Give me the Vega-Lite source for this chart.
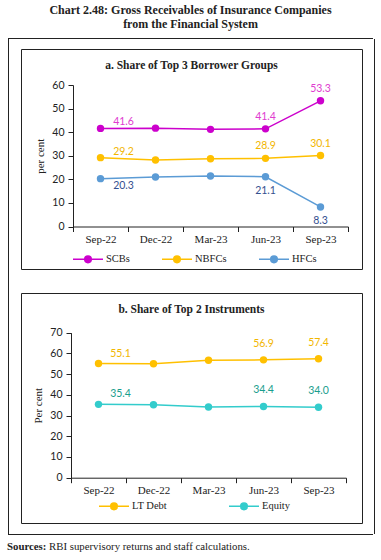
{
  "$schema": "https://vega.github.io/schema/vega-lite/v6.json",
  "background": "white",
  "padding": {"left": 7, "top": 4, "right": 4, "bottom": 4},
  "title": {
    "text": "RBI supervisory returns and staff calculations.",
    "orient": "bottom",
    "anchor": "start",
    "frame": "bounds",
    "dx": 42,
    "offset": -11,
    "font": "Liberation Serif",
    "fontSize": 10.8,
    "fontWeight": "normal",
    "color": "#222"
  },
  "spacing": 0,
  "resolve": {"scale": {"color": "independent", "fill": "independent"}, "legend": {"color": "independent"}},
  "datasets": {
    "a": [
      {"date": "Sep-22", "series": "SCBs", "value": 41.6},
      {"date": "Dec-22", "series": "SCBs", "value": 41.7},
      {"date": "Mar-23", "series": "SCBs", "value": 41.2},
      {"date": "Jun-23", "series": "SCBs", "value": 41.4},
      {"date": "Sep-23", "series": "SCBs", "value": 53.3},
      {"date": "Sep-22", "series": "NBFCs", "value": 29.2},
      {"date": "Dec-22", "series": "NBFCs", "value": 28.2},
      {"date": "Mar-23", "series": "NBFCs", "value": 28.7},
      {"date": "Jun-23", "series": "NBFCs", "value": 28.9},
      {"date": "Sep-23", "series": "NBFCs", "value": 30.1},
      {"date": "Sep-22", "series": "HFCs", "value": 20.3},
      {"date": "Dec-22", "series": "HFCs", "value": 21.0},
      {"date": "Mar-23", "series": "HFCs", "value": 21.4},
      {"date": "Jun-23", "series": "HFCs", "value": 21.1},
      {"date": "Sep-23", "series": "HFCs", "value": 8.3}
    ],
    "b": [
      {"date": "Sep-22", "series": "LT Debt", "value": 55.1},
      {"date": "Dec-22", "series": "LT Debt", "value": 55.0},
      {"date": "Mar-23", "series": "LT Debt", "value": 56.7},
      {"date": "Jun-23", "series": "LT Debt", "value": 56.9},
      {"date": "Sep-23", "series": "LT Debt", "value": 57.4},
      {"date": "Sep-22", "series": "Equity", "value": 35.4},
      {"date": "Dec-22", "series": "Equity", "value": 35.2},
      {"date": "Mar-23", "series": "Equity", "value": 34.1},
      {"date": "Jun-23", "series": "Equity", "value": 34.4},
      {"date": "Sep-23", "series": "Equity", "value": 34.0}
    ],
    "blank": []
  },
  "vconcat": [
    {
      "width": 365,
      "height": 1,
      "view": {"fill": "#222", "stroke": null},
      "title": {
        "text": ["Chart 2.48: Gross Receivables of Insurance Companies", "from the Financial System"],
        "anchor": "middle",
        "font": "Liberation Serif",
        "fontSize": 12,
        "fontWeight": "bold",
        "color": "#222",
        "lineHeight": 14,
        "offset": 7
      },
      "data": {"name": "blank"},
      "mark": {"type": "point"}
    },
    {
      "spacing": 11,
      "resolve": {"scale": {"color": "independent", "fill": "independent"}, "legend": {"color": "independent"}},
      "hconcat": [
        {
          "width": 1,
          "height": 495,
          "view": {"fill": "#222", "stroke": null},
          "data": {"name": "blank"},
          "mark": {"type": "point"}
        },
        {
          "spacing": 8,
          "resolve": {"scale": {"color": "independent", "fill": "independent"}, "legend": {"color": "independent"}},
          "vconcat": [
            {
              "width": 1,
              "height": 1,
              "view": {"fill": "white", "stroke": null},
              "data": {"name": "blank"},
              "mark": {"type": "point"}
            },
            {
              "spacing": 22,
              "resolve": {"scale": {"color": "independent", "fill": "independent"}, "legend": {"color": "independent"}},
              "vconcat": [
                {
                  "width": 341,
                  "height": 220,
                  "view": {"stroke": "#222", "strokeWidth": 1},
                  "title": {
                    "text": "a. Share of Top 3 Borrower Groups",
                    "offset": -22,
                    "font": "Liberation Serif",
                    "fontSize": 11.5,
                    "fontWeight": "bold",
                    "color": "#222"
                  },
                  "data": {"name": "a"},
                  "encoding": {
                    "x": {
                      "field": "date", "type": "nominal",
                      "sort": ["Sep-22", "Dec-22", "Mar-23", "Jun-23", "Sep-23"],
                      "scale": {"type": "band", "range": [52, 327], "paddingInner": 0, "paddingOuter": 0},
                      "axis": {"title": null, "offset": -42.5, "tickBand": "extent", "labelAngle": 0}
                    },
                    "y": {
                      "field": "value", "type": "quantitative",
                      "scale": {"domain": [0, 60], "range": [177.5, 36], "nice": false},
                      "axis": {"title": "per cent", "offset": -52, "values": [0, 10, 20, 30, 40, 50, 60]}
                    }
                  },
                  "layer": [
                    {
                      "mark": {"type": "line", "strokeWidth": 1.5},
                      "encoding": {
                        "color": {
                          "field": "series", "type": "nominal",
                          "scale": {"domain": ["SCBs", "NBFCs", "HFCs"], "range": ["#CC00CC", "#FFC000", "#5B9BD5"]},
                          "legend": {
                            "orient": "none", "legendX": 51, "legendY": 194, "direction": "horizontal", "title": null, "padding": 0,
                            "symbolType": "M-1,0H1M0.22,0A0.22,0.22,0,1,1,-0.22,0A0.22,0.22,0,1,1,0.22,0Z",
                            "symbolSize": 900, "symbolStrokeWidth": 1.5, "columnPadding": 29, "labelOffset": 2,
                            "encode": {"symbols": {"update": {
                              "fill": {"signal": "datum.value === 'SCBs' ? '#CC00CC' : datum.value === 'NBFCs' ? '#FFC000' : '#5B9BD5'"},
                              "stroke": {"signal": "datum.value === 'SCBs' ? '#CC00CC' : datum.value === 'NBFCs' ? '#FFC000' : '#5B9BD5'"},
                              "opacity": {"value": 1}
                            }}}
                          }
                        }
                      }
                    },
                    {
                      "mark": {"type": "point", "filled": true, "size": 55, "opacity": 1},
                      "encoding": {"color": {"field": "series", "type": "nominal"}}
                    },
                    {
                      "transform": [{"filter": "datum.date === 'Sep-22' && datum.series !== 'HFCs'"}],
                      "mark": {"type": "text", "dx": 23, "dy": -6, "font": "Lato", "fontSize": 10.5},
                      "encoding": {
                        "text": {"field": "value", "type": "quantitative", "format": ".1f"},
                        "fill": {"field": "series", "type": "nominal", "scale": {"domain": ["SCBs", "NBFCs", "HFCs"], "range": ["#E03CCF", "#F2B600", "#34508F"]}, "legend": null}
                      }
                    },
                    {
                      "transform": [{"filter": "datum.date === 'Sep-22' && datum.series === 'HFCs'"}],
                      "mark": {"type": "text", "dx": 23, "dy": 7, "font": "Lato", "fontSize": 10.5},
                      "encoding": {
                        "text": {"field": "value", "type": "quantitative", "format": ".1f"},
                        "fill": {"field": "series", "type": "nominal", "legend": null}
                      }
                    },
                    {
                      "transform": [{"filter": "(datum.date === 'Jun-23' || datum.date === 'Sep-23') && datum.series !== 'HFCs'"}],
                      "mark": {"type": "text", "dy": -12, "font": "Lato", "fontSize": 10.5},
                      "encoding": {
                        "text": {"field": "value", "type": "quantitative", "format": ".1f"},
                        "fill": {"field": "series", "type": "nominal", "legend": null}
                      }
                    },
                    {
                      "transform": [{"filter": "(datum.date === 'Jun-23' || datum.date === 'Sep-23') && datum.series === 'HFCs'"}],
                      "mark": {"type": "text", "dy": 14, "font": "Lato", "fontSize": 10.5},
                      "encoding": {
                        "text": {"field": "value", "type": "quantitative", "format": ".1f"},
                        "fill": {"field": "series", "type": "nominal", "legend": null}
                      }
                    }
                  ]
                },
                {
                  "width": 341,
                  "height": 230,
                  "view": {"stroke": "#222", "strokeWidth": 1},
                  "title": {
                    "text": "b. Share of Top 2 Instruments",
                    "offset": -22,
                    "font": "Liberation Serif",
                    "fontSize": 11.5,
                    "fontWeight": "bold",
                    "color": "#222"
                  },
                  "data": {"name": "b"},
                  "encoding": {
                    "x": {
                      "field": "date", "type": "nominal",
                      "sort": ["Sep-22", "Dec-22", "Mar-23", "Jun-23", "Sep-23"],
                      "scale": {"type": "band", "range": [50, 325], "paddingInner": 0, "paddingOuter": 0},
                      "axis": {"title": null, "offset": -45.3, "tickBand": "extent", "labelAngle": 0}
                    },
                    "y": {
                      "field": "value", "type": "quantitative",
                      "scale": {"domain": [0, 70], "range": [184.7, 39.7], "nice": false},
                      "axis": {"title": "Per cent", "offset": -50, "values": [0, 10, 20, 30, 40, 50, 60, 70]}
                    }
                  },
                  "layer": [
                    {
                      "mark": {"type": "line", "strokeWidth": 1.5},
                      "encoding": {
                        "color": {
                          "field": "series", "type": "nominal",
                          "scale": {"domain": ["LT Debt", "Equity"], "range": ["#FFC000", "#33CCCC"]},
                          "legend": {
                            "orient": "none", "legendX": 77, "legendY": 197, "direction": "horizontal", "title": null, "padding": 0,
                            "symbolType": "M-1,0H1M0.22,0A0.22,0.22,0,1,1,-0.22,0A0.22,0.22,0,1,1,0.22,0Z",
                            "symbolSize": 900, "symbolStrokeWidth": 1.5, "columnPadding": 59, "labelOffset": 2,
                            "encode": {"symbols": {"update": {
                              "fill": {"signal": "datum.value === 'LT Debt' ? '#FFC000' : '#33CCCC'"},
                              "stroke": {"signal": "datum.value === 'LT Debt' ? '#FFC000' : '#33CCCC'"},
                              "opacity": {"value": 1}
                            }}}
                          }
                        }
                      }
                    },
                    {
                      "mark": {"type": "point", "filled": true, "size": 55, "opacity": 1},
                      "encoding": {"color": {"field": "series", "type": "nominal"}}
                    },
                    {
                      "transform": [{"filter": "datum.date === 'Sep-22'"}],
                      "mark": {"type": "text", "dx": 22, "dy": -10, "font": "Lato", "fontSize": 10.5},
                      "encoding": {
                        "text": {"field": "value", "type": "quantitative", "format": ".1f"},
                        "fill": {"field": "series", "type": "nominal", "scale": {"domain": ["LT Debt", "Equity"], "range": ["#F2B600", "#1A9E8E"]}, "legend": null}
                      }
                    },
                    {
                      "transform": [{"filter": "datum.date === 'Jun-23' || datum.date === 'Sep-23'"}],
                      "mark": {"type": "text", "dy": -16, "font": "Lato", "fontSize": 10.5},
                      "encoding": {
                        "text": {"field": "value", "type": "quantitative", "format": ".1f"},
                        "fill": {"field": "series", "type": "nominal", "legend": null}
                      }
                    }
                  ]
                }
              ]
            }
          ]
        },
        {
          "width": 1,
          "height": 495,
          "view": {"fill": "#222", "stroke": null},
          "data": {"name": "blank"},
          "mark": {"type": "point"}
        }
      ]
    },
    {
      "width": 365,
      "height": 1,
      "view": {"fill": "#222", "stroke": null},
      "title": {
        "text": "Sources:",
        "orient": "bottom",
        "anchor": "start",
        "frame": "group",
        "dx": -1,
        "offset": 6,
        "font": "Liberation Serif",
        "fontSize": 10.8,
        "fontWeight": "bold",
        "color": "#222"
      },
      "data": {"name": "blank"},
      "mark": {"type": "point"}
    }
  ],
  "config": {
    "view": {"stroke": null},
    "font": "Liberation Serif",
    "axis": {
      "domainColor": "#222", "tickColor": "#222", "tickSize": 5, "domainWidth": 1, "tickWidth": 1,
      "labelColor": "#222", "titleColor": "#222", "grid": false
    },
    "axisX": {"labelFont": "Liberation Serif", "labelFontSize": 11, "labelPadding": 2},
    "axisY": {"labelFont": "Lato", "labelFontSize": 10.5, "labelPadding": 4, "titleFont": "Liberation Serif", "titleFontSize": 11, "titleFontWeight": "normal", "titlePadding": 6},
    "legend": {"labelFont": "Liberation Serif", "labelFontSize": 10.5, "labelColor": "#222"}
  }
}
